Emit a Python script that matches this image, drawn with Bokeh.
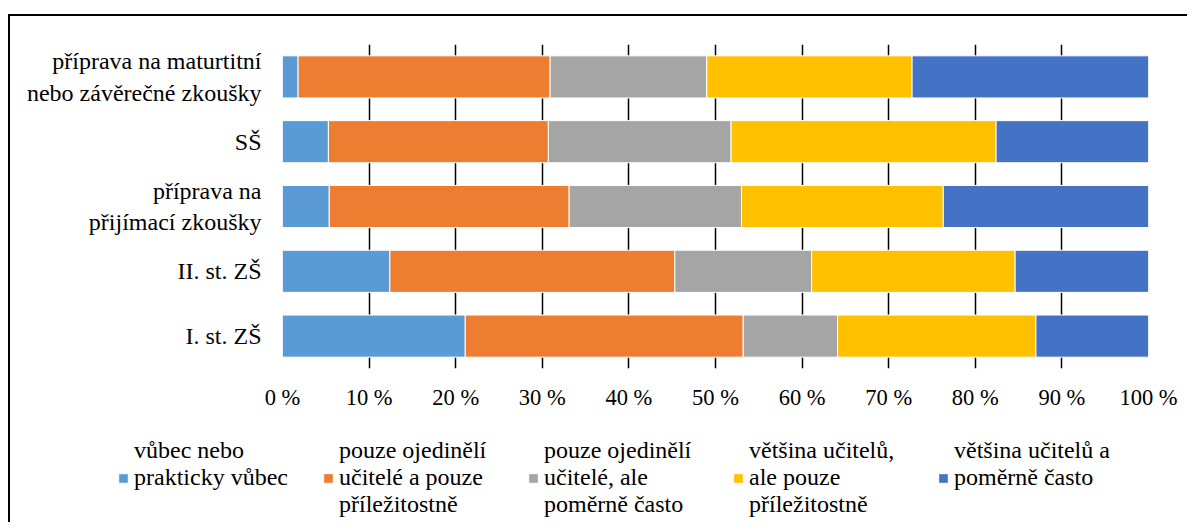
from bokeh.plotting import figure
from bokeh.layouts import column
from bokeh.models import FactorRange, Range1d, FixedTicker, Legend, LegendItem, ColumnDataSource
from bokeh.embed import file_html
from bokeh.resources import INLINE

# categories, bottom -> top
categories = [
    "I. st. ZŠ",
    "II. st. ZŠ",
    "příprava na\npřijímací zkoušky",
    "SŠ",
    "příprava na maturtitní\nnebo závěrečné zkoušky",
]
series_names = [
    "vůbec nebo\nprakticky vůbec",
    "pouze ojedinělí\nučitelé a pouze\npříležitostně",
    "pouze ojedinělí\nučitelé, ale\npoměrně často",
    "většina učitelů,\nale pouze\npříležitostně",
    "většina učitelů a\npoměrně často",
]
colors = ["#5B9BD5", "#ED7D31", "#A5A5A5", "#FFC000", "#4472C4"]

s1 = [21.1, 12.4, 5.4, 5.3, 1.8]
s2 = [32.1, 32.9, 27.7, 25.4, 29.1]
s3 = [10.9, 15.8, 19.9, 21.1, 18.1]
s4 = [22.9, 23.5, 23.3, 30.6, 23.7]
s5 = [13.0, 15.4, 23.7, 17.6, 27.3]

x_ticks = [0, 10, 20, 30, 40, 50, 60, 70, 80, 90, 100]

keys = ["s1", "s2", "s3", "s4", "s5"]
source = ColumnDataSource(dict(cat=categories, s1=s1, s2=s2, s3=s3, s4=s4, s5=s5))

FONT = "Liberation Serif"


def legend_text(name):
    # pad every label to three lines so that all labels start on the same line
    lines = name.split("\n")
    lines = lines + [" "] * (3 - len(lines))
    return "\n".join(lines)


p = figure(
    y_range=FactorRange(*categories),
    x_range=Range1d(0, 100),
    frame_width=866, frame_height=324,
    min_border_left=272, min_border_right=39,
    min_border_top=28, min_border_bottom=60,
    output_backend="svg", toolbar_location=None,
)

renderers = p.hbar_stack(keys, y="cat", height=0.65, color=colors, source=source,
                         line_color="white", line_width=1)

p.outline_line_color = None
p.ygrid.grid_line_color = None
p.xgrid.grid_line_color = "black"
p.xgrid.grid_line_width = 1.5
p.xgrid.ticker = FixedTicker(ticks=x_ticks)

xa = p.xaxis[0]
xa.ticker = FixedTicker(ticks=x_ticks)
xa.major_label_overrides = {t: f"{t} %" for t in x_ticks}
xa.axis_line_color = None
xa.major_tick_line_color = None
xa.minor_tick_line_color = None
xa.major_tick_out = 0
xa.major_label_standoff = 16
xa.major_label_text_font = FONT
xa.major_label_text_font_size = "22.5px"
xa.major_label_text_color = "black"

ya = p.yaxis[0]
ya.axis_line_color = None
ya.major_tick_line_color = None
ya.major_tick_out = 0
ya.major_label_standoff = 21
ya.major_label_text_font = FONT
ya.major_label_text_font_size = "24px"
ya.major_label_text_color = "black"

# legend strip below the chart
p2 = figure(
    y_range=FactorRange(*categories),
    x_range=Range1d(0, 100),
    frame_width=1177, frame_height=94,
    min_border_left=0, min_border_right=0,
    min_border_top=0, min_border_bottom=0,
    output_backend="svg", toolbar_location=None,
)
p2.axis.visible = False
p2.grid.grid_line_color = None
p2.outline_line_color = None
legend_renderers = p2.hbar_stack(keys, y="cat", height=0.65, color=colors, source=source,
                                 line_color="white", line_width=1)
for r in legend_renderers:
    r.visible = False

legend = Legend(
    items=[LegendItem(label=legend_text(n), renderers=[r]) for n, r in zip(series_names, legend_renderers)],
    orientation="horizontal",
    location=(107, 4),
    padding=0, margin=0, spacing=8,
    glyph_width=12, glyph_height=12, label_standoff=5, label_width=180,
    label_text_font=FONT, label_text_font_size="24px", label_text_color="black",
    label_text_line_height=1.12,
    inactive_fill_alpha=0,
    border_line_color=None, background_fill_alpha=0,
)
p2.add_layout(legend, "center")

layout = column(p, p2, spacing=0,
                styles={"border-left": "2px solid black", "border-top": "2px solid black",
                        "margin-top": "14px", "margin-left": "8px"})

open("out.html", "w").write(file_html(layout, INLINE))
